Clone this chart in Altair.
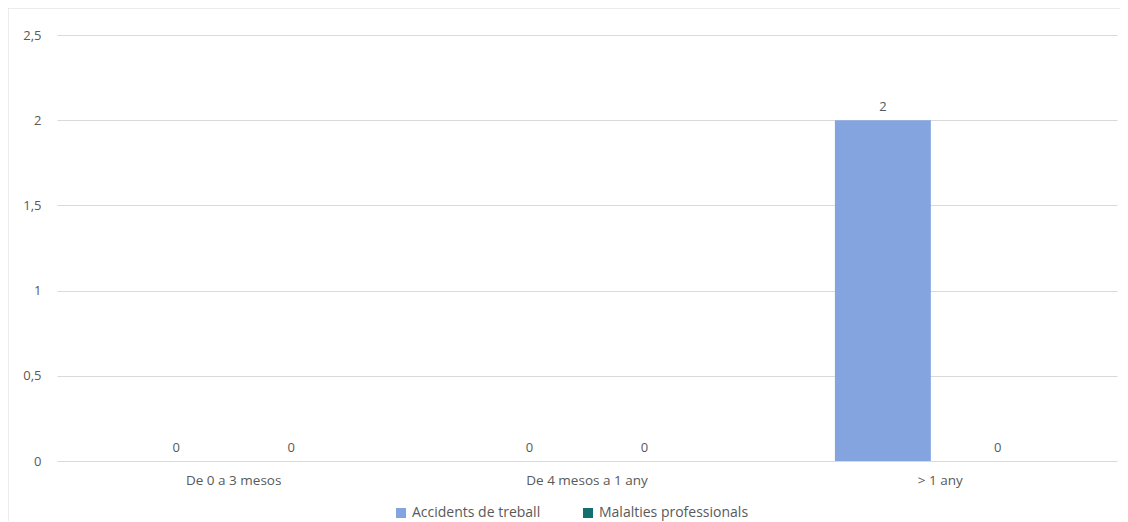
import altair as alt
import pandas as pd

categories = ["De 0 a 3 mesos", "De 4 mesos a 1 any", "> 1 any"]
series = ["Accidents de treball", "Malalties professionals"]
accidents = [0, 0, 2]
malalties = [0, 0, 0]
colors = ["#84A4E0", "#14706E"]

rows = []
for i, c in enumerate(categories):
    rows.append({"cat": c, "serie": series[0], "value": accidents[i]})
    rows.append({"cat": c, "serie": series[1], "value": malalties[i]})
df = pd.DataFrame(rows)

FONT = "Open Sans"
TXT = "#595959"

x = alt.X("cat:N", sort=categories, title=None,
          scale=alt.Scale(paddingInner=0, paddingOuter=0),
          axis=alt.Axis(labelAngle=0, domain=False, ticks=False, labelPadding=12,
                        labelFont=FONT, labelFontSize=13.5, labelColor=TXT, grid=False))
xo = alt.XOffset("serie:N", sort=series,
                 scale=alt.Scale(paddingInner=0.165, paddingOuter=0.62))
y = alt.Y("value:Q", title=None,
          scale=alt.Scale(domain=[0, 2.5], nice=False),
          axis=alt.Axis(values=[0, 0.5, 1, 1.5, 2, 2.5], labelExpr="replace(format(datum.value, ''), '.', ',')",
                        domain=False, ticks=False, labelPadding=16, gridColor="#D9D9D9",
                        labelFont=FONT, labelFontSize=13, labelColor=TXT))

bars = alt.Chart(df).mark_bar().encode(
    x=x, xOffset=xo, y=y,
    color=alt.Color("serie:N", sort=series, title=None,
                    scale=alt.Scale(domain=series, range=colors),
                    legend=alt.Legend(orient="none", legendX=337, legendY=471, direction="horizontal",
                                      symbolType="square", symbolSize=100, symbolStrokeWidth=0,
                                      labelFont=FONT, labelFontSize=14, labelColor=TXT,
                                      columnPadding=40, symbolOffset=0, labelOffset=4)),
)

labels = alt.Chart(df).mark_text(baseline="bottom", dy=-6, font=FONT, fontSize=13, color=TXT).encode(
    x=alt.X("cat:N", sort=categories), xOffset=alt.XOffset("serie:N", sort=series),
    y="value:Q", text=alt.Text("value:Q", format="d"),
)

border_top = alt.Chart(pd.DataFrame({"a": [0]})).mark_rule(color="#D9D9D9", strokeWidth=1).encode(
    x=alt.value(-49), x2=alt.value(1075), y=alt.value(-27))
border_left = alt.Chart(pd.DataFrame({"a": [0]})).mark_rule(color="#D9D9D9", strokeWidth=1).encode(
    x=alt.value(-49), y=alt.value(-27), y2=alt.value(490))

chart = alt.layer(bars, labels, border_top, border_left).properties(
    width=1060, height=426,
    background="white",
    autosize=alt.AutoSizeParams(type="none"),
    padding={"left": 49, "top": 27, "right": 3, "bottom": 60},
).configure_view(strokeWidth=0, stroke="transparent")

chart.save("out.html", embed_options={"renderer": "svg", "actions": False})
